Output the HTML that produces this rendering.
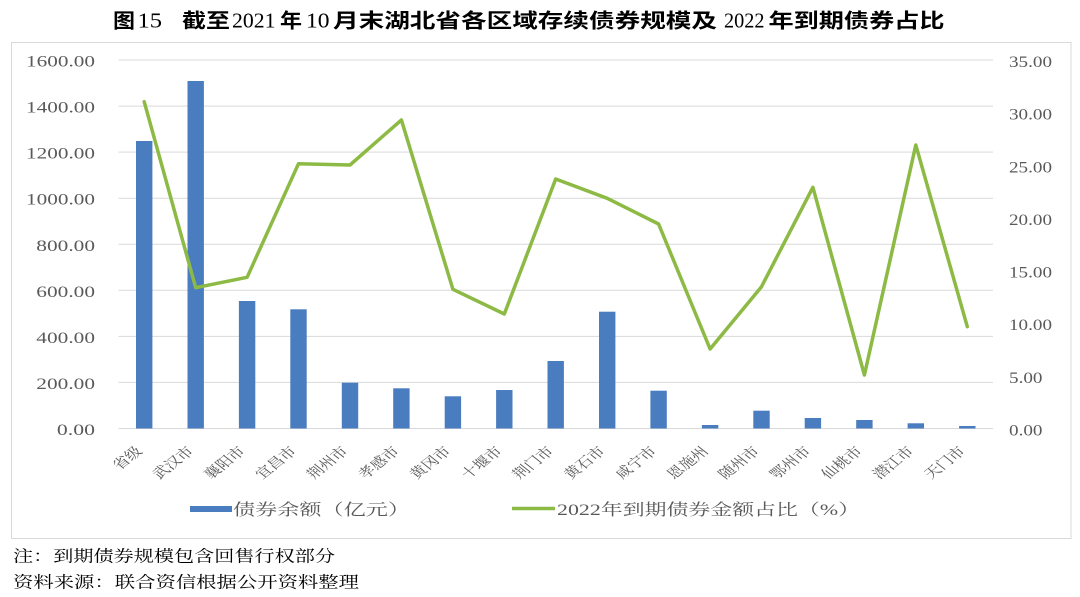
<!DOCTYPE html>
<html>
<head>
<meta charset="utf-8">
<style>
html,body{margin:0;padding:0;background:#fff;}
svg{display:block;}
.num{font-family:"Liberation Serif","DejaVu Serif",serif;font-size:16px;fill:#595959;}
.cat{font-family:"Liberation Serif","Noto Serif CJK SC",serif;font-size:13px;fill:#595959;}
.leg{font-family:"Liberation Serif","Noto Serif CJK SC",serif;font-size:16px;fill:#595959;}
.tc{font-family:"Liberation Sans","Noto Sans CJK SC",sans-serif;font-size:20px;font-weight:bold;fill:#000;}
.td{font-family:"Liberation Serif",serif;font-size:21px;fill:#000;}
.note{font-family:"Liberation Serif","Noto Serif CJK SC",serif;font-size:16px;fill:#000;}
</style>
</head>
<body>
<svg width="1080" height="597" viewBox="0 0 1080 597" xmlns="http://www.w3.org/2000/svg">
<rect x="0" y="0" width="1080" height="597" fill="#fff"/>

<!-- Title -->
<text class="tc" x="113" y="27.5" textLength="22" lengthAdjust="spacingAndGlyphs">图</text>
<text class="td" x="137.5" y="27.5" textLength="24.5" lengthAdjust="spacingAndGlyphs">15</text>
<text class="tc" x="182" y="27.5" textLength="48" lengthAdjust="spacingAndGlyphs">截至</text>
<text class="td" x="232" y="27.5" textLength="43.5" lengthAdjust="spacingAndGlyphs">2021</text>
<text class="tc" x="280" y="27.5" textLength="22" lengthAdjust="spacingAndGlyphs">年</text>
<text class="td" x="306" y="27.5" textLength="23.5" lengthAdjust="spacingAndGlyphs">10</text>
<text class="tc" x="333" y="27.5" textLength="384" lengthAdjust="spacingAndGlyphs">月末湖北省各区域存续债券规模及</text>
<text class="td" x="724" y="27.5" textLength="40.5" lengthAdjust="spacingAndGlyphs">2022</text>
<text class="tc" x="768.5" y="27.5" textLength="176" lengthAdjust="spacingAndGlyphs">年到期债券占比</text>

<!-- Chart border -->
<rect x="11.5" y="42.5" width="1059.5" height="496" fill="none" stroke="#d9d9d9" stroke-width="1"/>

<!-- Gridlines -->
<g stroke="#d9d9d9" stroke-width="1">
<line x1="118.5" x2="993" y1="60" y2="60"/>
<line x1="118.5" x2="993" y1="106.1" y2="106.1"/>
<line x1="118.5" x2="993" y1="152.1" y2="152.1"/>
<line x1="118.5" x2="993" y1="198.2" y2="198.2"/>
<line x1="118.5" x2="993" y1="244.3" y2="244.3"/>
<line x1="118.5" x2="993" y1="290.3" y2="290.3"/>
<line x1="118.5" x2="993" y1="336.4" y2="336.4"/>
<line x1="118.5" x2="993" y1="382.4" y2="382.4"/>
<line x1="118.5" x2="993" y1="428.5" y2="428.5"/>
</g>

<!-- Left axis labels -->
<text class="num" x="26" y="66.5" textLength="69" lengthAdjust="spacingAndGlyphs">1600.00</text>
<text class="num" x="26" y="112.6" textLength="69" lengthAdjust="spacingAndGlyphs">1400.00</text>
<text class="num" x="26" y="158.6" textLength="69" lengthAdjust="spacingAndGlyphs">1200.00</text>
<text class="num" x="26" y="204.7" textLength="69" lengthAdjust="spacingAndGlyphs">1000.00</text>
<text class="num" x="36.3" y="250.8" textLength="58.7" lengthAdjust="spacingAndGlyphs">800.00</text>
<text class="num" x="36.3" y="296.8" textLength="58.7" lengthAdjust="spacingAndGlyphs">600.00</text>
<text class="num" x="36.3" y="342.9" textLength="58.7" lengthAdjust="spacingAndGlyphs">400.00</text>
<text class="num" x="36.3" y="388.9" textLength="58.7" lengthAdjust="spacingAndGlyphs">200.00</text>
<text class="num" x="56.9" y="435" textLength="38.1" lengthAdjust="spacingAndGlyphs">0.00</text>

<!-- Right axis labels (0-35, 7 intervals) -->
<text class="num" x="1009" y="67" textLength="43" lengthAdjust="spacingAndGlyphs">35.00</text>
<text class="num" x="1009" y="119.6" textLength="43" lengthAdjust="spacingAndGlyphs">30.00</text>
<text class="num" x="1009" y="172.3" textLength="43" lengthAdjust="spacingAndGlyphs">25.00</text>
<text class="num" x="1009" y="224.9" textLength="43" lengthAdjust="spacingAndGlyphs">20.00</text>
<text class="num" x="1009" y="277.6" textLength="43" lengthAdjust="spacingAndGlyphs">15.00</text>
<text class="num" x="1009" y="330.2" textLength="43" lengthAdjust="spacingAndGlyphs">10.00</text>
<text class="num" x="1009" y="382.9" textLength="33.5" lengthAdjust="spacingAndGlyphs">5.00</text>
<text class="num" x="1009" y="435.5" textLength="33.5" lengthAdjust="spacingAndGlyphs">0.00</text>

<!-- Bars -->
<g fill="#4a7cc0">
<rect x="136.0" y="141" width="16.4" height="287.5"/>
<rect x="187.5" y="81" width="16.4" height="347.5"/>
<rect x="238.9" y="301" width="16.4" height="127.5"/>
<rect x="290.3" y="309.3" width="16.4" height="119.2"/>
<rect x="341.8" y="382.7" width="16.4" height="45.8"/>
<rect x="393.2" y="388.3" width="16.4" height="40.2"/>
<rect x="444.7" y="396.3" width="16.4" height="32.2"/>
<rect x="496.1" y="390" width="16.4" height="38.5"/>
<rect x="547.5" y="361" width="16.4" height="67.5"/>
<rect x="599.0" y="311.7" width="16.4" height="116.8"/>
<rect x="650.4" y="390.7" width="16.4" height="37.8"/>
<rect x="701.9" y="425" width="16.4" height="3.5"/>
<rect x="753.3" y="410.7" width="16.4" height="17.8"/>
<rect x="804.7" y="418" width="16.4" height="10.5"/>
<rect x="856.2" y="420" width="16.4" height="8.5"/>
<rect x="907.6" y="423.3" width="16.4" height="5.2"/>
<rect x="959.1" y="426" width="16.4" height="2.5"/>
</g>

<!-- Line -->
<polyline fill="none" stroke="#8dba45" stroke-width="3.5" stroke-linejoin="round" stroke-linecap="round"
points="144.2,101.7 195.7,287.7 247.1,277.3 298.5,163.7 350,165 401.4,120 452.9,289.3 504.3,314 555.7,179 607.2,198.3 658.6,224 710.1,349 761.5,286.7 812.9,187.3 864.4,375 915.8,145 967.3,326.7"/>

<!-- Category labels -->
<g class="cat" text-anchor="end">
<text transform="translate(143.2,452) scale(1.28,1) rotate(-45)">省级</text>
<text transform="translate(194.7,452) scale(1.28,1) rotate(-45)">武汉市</text>
<text transform="translate(246.1,452) scale(1.28,1) rotate(-45)">襄阳市</text>
<text transform="translate(297.5,452) scale(1.28,1) rotate(-45)">宜昌市</text>
<text transform="translate(349,452) scale(1.28,1) rotate(-45)">荆州市</text>
<text transform="translate(400.4,452) scale(1.28,1) rotate(-45)">孝感市</text>
<text transform="translate(451.9,452) scale(1.28,1) rotate(-45)">黄冈市</text>
<text transform="translate(503.3,452) scale(1.28,1) rotate(-45)">十堰市</text>
<text transform="translate(554.7,452) scale(1.28,1) rotate(-45)">荆门市</text>
<text transform="translate(606.2,452) scale(1.28,1) rotate(-45)">黄石市</text>
<text transform="translate(657.6,452) scale(1.28,1) rotate(-45)">咸宁市</text>
<text transform="translate(709.1,452) scale(1.28,1) rotate(-45)">恩施州</text>
<text transform="translate(760.5,452) scale(1.28,1) rotate(-45)">随州市</text>
<text transform="translate(811.9,452) scale(1.28,1) rotate(-45)">鄂州市</text>
<text transform="translate(863.4,452) scale(1.28,1) rotate(-45)">仙桃市</text>
<text transform="translate(914.8,452) scale(1.28,1) rotate(-45)">潜江市</text>
<text transform="translate(966.3,452) scale(1.28,1) rotate(-45)">天门市</text>
</g>

<!-- Legend -->
<rect x="190" y="506" width="42" height="6" fill="#4a7cc0"/>
<text class="leg" x="233" y="515" textLength="177" lengthAdjust="spacingAndGlyphs">债券余额（亿元）</text>
<line x1="512" y1="508.5" x2="555" y2="508.5" stroke="#8dba45" stroke-width="3.5"/>
<text class="leg" x="557" y="515" textLength="303" lengthAdjust="spacingAndGlyphs">2022年到期债券金额占比（%）</text>

<!-- Notes -->
<text class="note" x="13" y="561.5" textLength="322" lengthAdjust="spacingAndGlyphs">注：到期债券规模包含回售行权部分</text>
<text class="note" x="13" y="587.5" textLength="346" lengthAdjust="spacingAndGlyphs">资料来源：联合资信根据公开资料整理</text>
</svg>
</body>
</html>
